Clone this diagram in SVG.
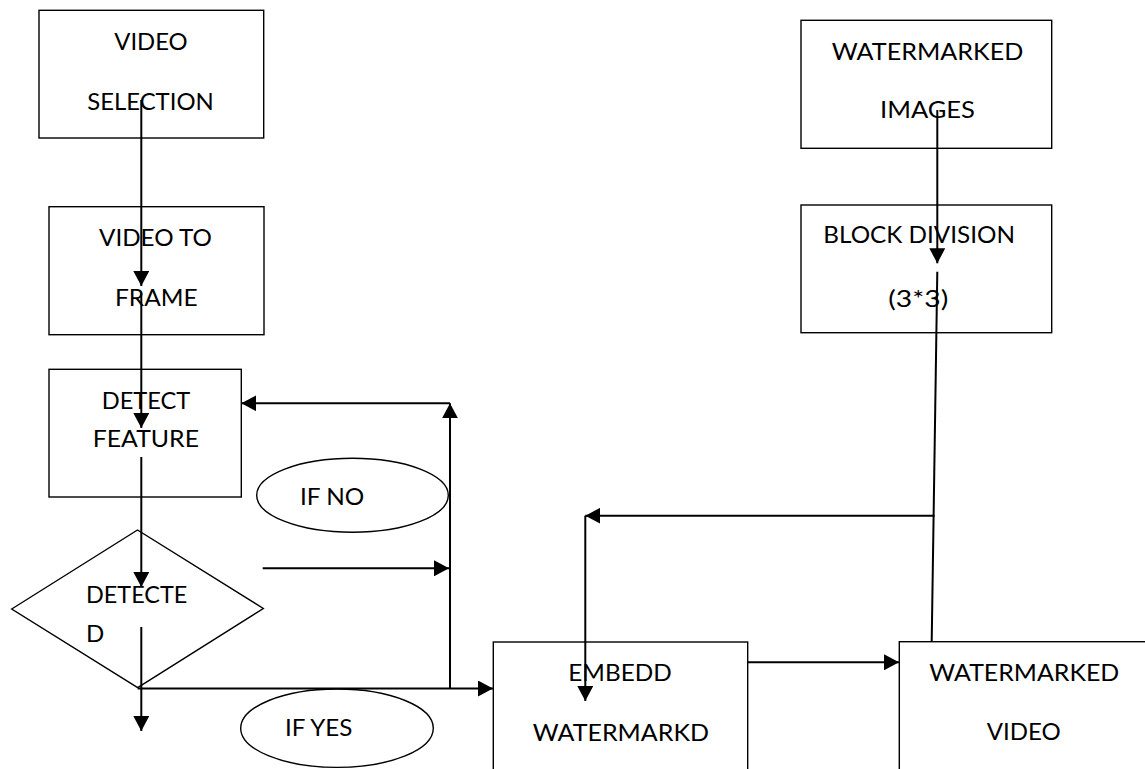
<svg xmlns="http://www.w3.org/2000/svg" width="1145" height="769" viewBox="0 0 1145 769">
<style>
.box{fill:#fff;stroke:#000;stroke-width:1.4}
.t{font-family:Lato,"Liberation Sans",sans-serif;font-size:24px;fill:#000}
.c{fill:none;stroke:#000;stroke-width:2}
</style>
<defs>
<marker id="ah" markerUnits="userSpaceOnUse" viewBox="0 0 15 16" refX="15" refY="8" markerWidth="15" markerHeight="16" orient="auto">
<path d="M0,0 L15,8 L0,16 Z" fill="#000"/>
</marker>
</defs>
<rect width="1145" height="769" fill="#fff"/>
<g id="n-video-selection">
<rect class="box" x="39" y="10.3" width="224.7" height="127.7"/>
<text class="t" x="114.3" y="50" textLength="73.4" lengthAdjust="spacingAndGlyphs">VIDEO</text>
<text class="t" x="87.3" y="110" textLength="126.4" lengthAdjust="spacingAndGlyphs">SELECTION</text>
</g>
<g id="n-video-to-frame">
<rect class="box" x="49" y="206.7" width="215" height="128"/>
<text class="t" x="99" y="246" textLength="113" lengthAdjust="spacingAndGlyphs">VIDEO TO</text>
<text class="t" x="115" y="306" textLength="82.7" lengthAdjust="spacingAndGlyphs">FRAME</text>
</g>
<g id="n-detect-feature">
<rect class="box" x="49" y="369.3" width="192.3" height="127.7"/>
<text class="t" x="101.7" y="409.3" textLength="88.6" lengthAdjust="spacingAndGlyphs">DETECT</text>
<text class="t" x="92.7" y="447.3" textLength="106.3" lengthAdjust="spacingAndGlyphs">FEATURE</text>
</g>
<g id="n-detected">
<polygon class="box" points="11.7,609 137.5,530 263.3,608.5 137.7,687.7"/>
<text class="t" x="86" y="603.3" textLength="101.3" lengthAdjust="spacingAndGlyphs">DETECTE</text>
<text class="t" x="86" y="641.7">D</text>
</g>
<g id="n-if-no">
<ellipse class="box" cx="352.5" cy="495.3" rx="95.8" ry="37"/>
<text class="t" x="300" y="505" textLength="64.3" lengthAdjust="spacingAndGlyphs">IF NO</text>
</g>
<g id="n-if-yes">
<ellipse class="box" cx="337" cy="728.2" rx="96.3" ry="39.2"/>
<text class="t" x="285" y="735.7" textLength="67.3" lengthAdjust="spacingAndGlyphs">IF YES</text>
</g>
<g id="n-embedd">
<rect class="box" x="493.3" y="642" width="254.4" height="140"/>
<text class="t" x="568.3" y="680.7" textLength="103.4" lengthAdjust="spacingAndGlyphs">EMBEDD</text>
<text class="t" x="532.7" y="740.7" textLength="176.3" lengthAdjust="spacingAndGlyphs">WATERMARKD</text>
</g>
<g id="n-watermarked-video">
<rect class="box" x="899.3" y="641.7" width="260" height="140"/>
<text class="t" x="929.3" y="680.7" textLength="190" lengthAdjust="spacingAndGlyphs">WATERMARKED</text>
<text class="t" x="986.7" y="740" textLength="74" lengthAdjust="spacingAndGlyphs">VIDEO</text>
</g>
<g id="n-watermarked-images">
<rect class="box" x="801" y="20.3" width="250.7" height="128"/>
<text class="t" x="831.7" y="60" textLength="191.6" lengthAdjust="spacingAndGlyphs">WATERMARKED</text>
<text class="t" x="880" y="118.3" textLength="95" lengthAdjust="spacingAndGlyphs">IMAGES</text>
</g>
<g id="n-block-division">
<rect class="box" x="801" y="205" width="250.7" height="127.7"/>
<text class="t" x="823.3" y="243.3" textLength="191.7" lengthAdjust="spacingAndGlyphs">BLOCK DIVISION</text>
<text class="t" x="888.3" y="306.7" textLength="60" lengthAdjust="spacingAndGlyphs">(3*3)</text>
</g>
<g id="connectors">
<path class="c" d="M141.3,100 V286" marker-end="url(#ah)"/>
<path class="c" d="M141.3,293 V428" marker-end="url(#ah)"/>
<path class="c" d="M141.3,457 V587" marker-end="url(#ah)"/>
<path class="c" d="M141.3,627 V731" marker-end="url(#ah)"/>
<path class="c" d="M137.7,688.5 H493" marker-end="url(#ah)"/>
<path class="c" d="M450,688.5 V403.3" marker-end="url(#ah)"/>
<path class="c" d="M450,403.3 H241.3" marker-end="url(#ah)"/>
<path class="c" d="M262.7,568.3 H449" marker-end="url(#ah)"/>
<path class="c" d="M748,662.3 H899" marker-end="url(#ah)"/>
<path class="c" d="M937.3,110 V263.3" marker-end="url(#ah)"/>
<path class="c" d="M937.3,271.7 L931.7,641.7"/>
<path class="c" d="M934.5,515.7 H585.3" marker-end="url(#ah)"/>
<path class="c" d="M585.3,515.7 V701" marker-end="url(#ah)"/>
</g>
</svg>
